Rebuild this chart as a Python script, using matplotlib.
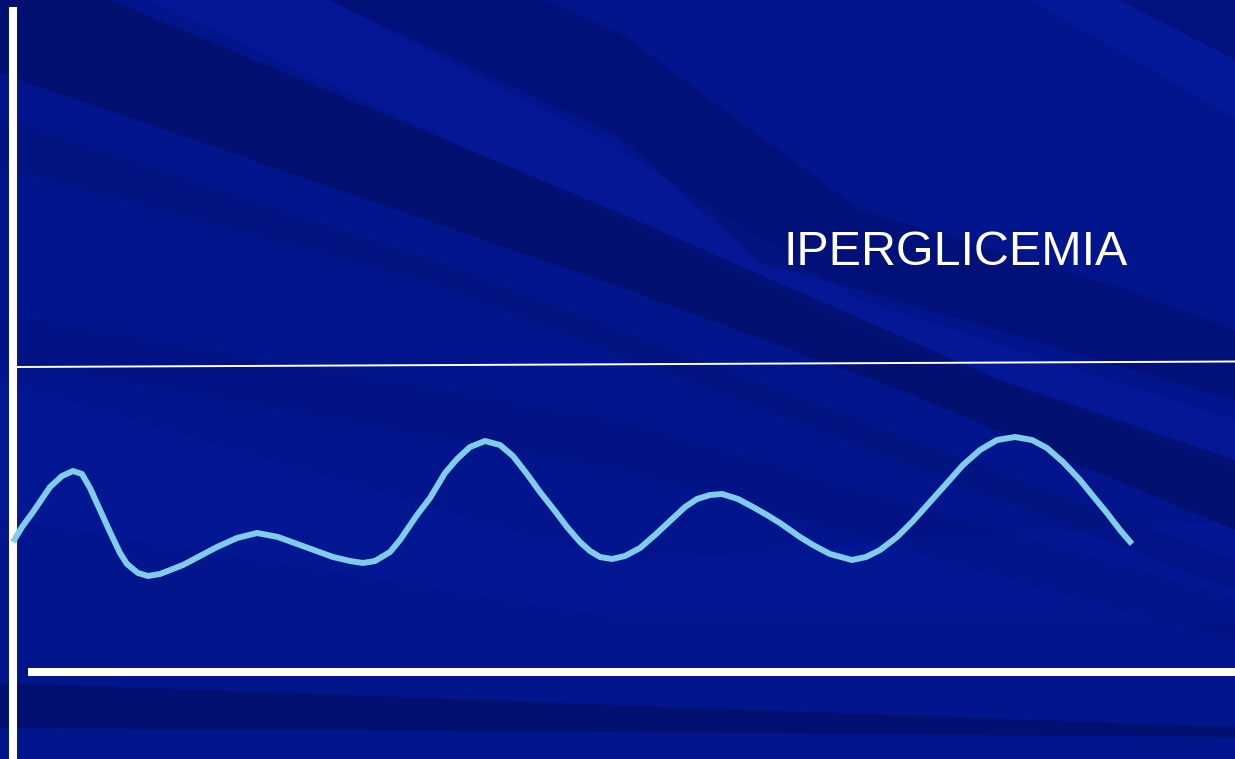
import matplotlib.pyplot as plt

# curva glicemica (coordinate in pixel dell'immagine, y verso il basso)
curve_x = [13, 22, 33, 50, 62, 73, 82, 90, 100, 110, 120, 127, 138, 148, 160,
           183, 200, 217, 237, 257, 278, 300, 333, 350, 363, 375, 390, 400,
           417, 430, 445, 457, 470, 485, 500, 513, 527, 540, 555, 567, 580,
           590, 600, 612, 625, 640, 655, 670, 685, 697, 710, 722, 738, 753,
           767, 780, 800, 813, 830, 852, 866, 880, 897, 913, 930, 947, 963,
           980, 997, 1015, 1032, 1047, 1063, 1080, 1093, 1107, 1120, 1132]
curve_y = [542, 527, 512, 487, 476, 471, 474, 488, 510, 532, 553, 564, 573, 576, 574,
           565, 556, 547, 538, 533, 537, 545, 557, 561, 563, 561, 552, 540,
           515, 498, 473, 459, 447, 441, 445, 456, 474, 492, 511, 527, 542,
           551, 557, 559, 556, 548, 535, 521, 507, 499, 495, 494, 499, 507,
           515, 523, 537, 545, 554, 560, 557, 550, 537, 521, 502, 483, 465,
           450, 440, 437, 440, 448, 462, 480, 496, 513, 530, 544]

# soglia (linea sottile) e asse del tempo
soglia_x = [16, 1235]
soglia_y = [367, 361.5]
asse_x = [28, 1235]
asse_y = [672, 672]
label = 'IPERGLICEMIA'

fig = plt.figure(figsize=(12.35, 7.59), dpi=100)
ax = fig.add_axes([0, 0, 1, 1])
ax.set_xlim(0, 1235)
ax.set_ylim(759, 0)
ax.axis('off')
fig.patch.set_facecolor('#02158c')

# sfondo a raggi (solo decorazione)
dark = '#020c5e'
light = '#0a22b0'
lights = [
    ([(0, 380), (620, 560), (1235, 520), (1235, 620), (620, 620), (0, 520)], 0.2),
    ([(330, 0), (620, 150), (860, 300), (1235, 420), (1235, 470), (860, 330), (620, 220), (150, 0)], 0.25),
    ([(1030, 0), (1235, 118), (1235, 60), (1120, 0)], 0.35),
]
for pts, a in lights:
    xs, ys = zip(*pts)
    ax.fill(xs, ys, color=light, alpha=a, lw=0, zorder=0)

bands = [
    ([(111, 0), (620, 213), (1000, 380), (1235, 460), (1235, 530), (900, 390), (620, 287), (0, 73), (0, 0)], 0.55),
    ([(545, 0), (620, 33), (860, 210), (1127, 290), (1235, 330), (1235, 400), (860, 290), (760, 263), (620, 137), (328, 0)], 0.4),
    ([(0, 117), (435, 260), (1235, 560), (1235, 590), (435, 285), (0, 167)], 0.2),
    ([(0, 313), (620, 420), (1235, 600), (1235, 640), (620, 470), (0, 360)], 0.15),
    ([(0, 683), (300, 693), (615, 705), (1235, 727), (1235, 737), (615, 732), (0, 728)], 0.55),
    ([(1120, 0), (1235, 60), (1235, 0)], 0.3),
]
for pts, a in bands:
    xs, ys = zip(*pts)
    ax.fill(xs, ys, color=dark, alpha=a, lw=0, zorder=1)

# assi bianchi
ax.plot([12.5, 12.5], [7, 759], color='white', lw=5.8, solid_capstyle='butt', zorder=3)
ax.plot(asse_x, asse_y, color='white', lw=5.8, solid_capstyle='butt', zorder=3)
ax.plot(soglia_x, soglia_y, color='white', lw=1.4, zorder=3)

# curva
ax.plot(curve_x, curve_y, color='#7fcdea', lw=4.3, solid_capstyle='butt',
        solid_joinstyle='round', zorder=4)

ax.text(784, 265, label, color='white', fontsize=34.8, family='Liberation Sans',
        ha='left', va='baseline', zorder=5)

plt.savefig('out.png', dpi=100, facecolor=fig.get_facecolor())
